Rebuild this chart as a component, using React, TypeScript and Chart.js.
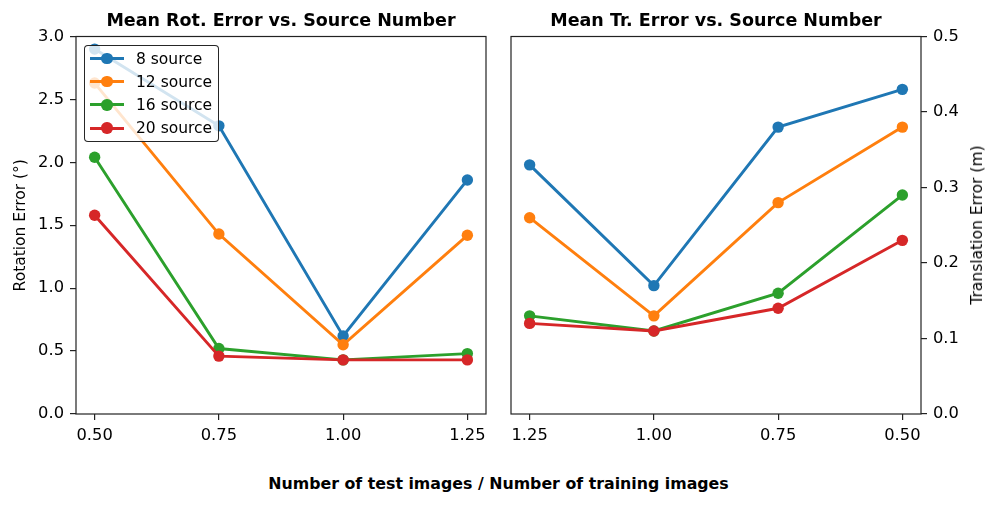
import React, { useEffect, useRef } from 'react';
import { Chart, registerables } from 'chart.js';

Chart.register(...registerables);

// ---- data ----
const ratioTicks = [0.5, 0.75, 1.0, 1.25];
const rotRatios = [0.5, 0.75, 1.0, 1.25];
const trRatios = [1.25, 1.0, 0.75, 0.5];
const seriesLabels = ['8 source', '12 source', '16 source', '20 source'];
const seriesColors = ['#1f77b4', '#ff7f0e', '#2ca02c', '#d62728'];

const rotErr8 = [2.9, 2.29, 0.62, 1.86];
const rotErr12 = [2.63, 1.43, 0.55, 1.42];
const rotErr16 = [2.04, 0.52, 0.43, 0.48];
const rotErr20 = [1.58, 0.46, 0.43, 0.43];

const trErr8 = [0.33, 0.17, 0.38, 0.43];
const trErr12 = [0.26, 0.13, 0.28, 0.38];
const trErr16 = [0.13, 0.11, 0.16, 0.29];
const trErr20 = [0.12, 0.11, 0.14, 0.23];

const rotTicks = [0, 0.5, 1.0, 1.5, 2.0, 2.5, 3.0];
const trTicks = [0, 0.1, 0.2, 0.3, 0.4, 0.5];

const rotSeries = [rotErr8, rotErr12, rotErr16, rotErr20];
const trSeries = [trErr8, trErr12, trErr16, trErr20];

const FONT = "'DejaVu Sans', sans-serif";

const framePlugin = {
  id: 'frame',
  afterDraw(chart: any) {
    const { ctx, chartArea: a } = chart;
    ctx.save();
    ctx.strokeStyle = '#222';
    ctx.lineWidth = 1.2;
    ctx.strokeRect(a.left, a.top, a.right - a.left, a.bottom - a.top);
    ctx.restore();
  },
};

function buildDatasets(xs: number[], series: number[][]) {
  return series.map((vals, i) => ({
    label: seriesLabels[i],
    data: vals.map((v, j) => ({ x: xs[j], y: v })),
    borderColor: seriesColors[i],
    backgroundColor: seriesColors[i],
    borderWidth: 2.9,
    pointRadius: 5.7,
    pointBorderWidth: 0,
    pointBackgroundColor: seriesColors[i],
    tension: 0,
    order: 3 - i,
  }));
}

const tickGrid = {
  display: true,
  drawOnChartArea: false,
  drawTicks: true,
  tickLength: 6,
  color: '#222',
  lineWidth: 1.2,
};

function makeConfig(side: 'left' | 'right'): any {
  const isLeft = side === 'left';
  const yTicks = isLeft ? rotTicks : trTicks;
  return {
    type: 'line',
    data: {
      datasets: isLeft ? buildDatasets(rotRatios, rotSeries) : buildDatasets(trRatios, trSeries),
    },
    plugins: [framePlugin],
    options: {
      responsive: false,
      animation: false,
      events: [],
      layout: { padding: isLeft ? { left: 0, right: 11, top: 0, bottom: 0 } : { left: 14, right: 0, top: 0, bottom: 0 } },
      plugins: {
        legend: { display: false },
        tooltip: { enabled: false },
        title: {
          display: true,
          text: isLeft ? 'Mean Rot. Error vs. Source Number' : 'Mean Tr. Error vs. Source Number',
          fullSize: false,
          color: '#000',
          font: { family: FONT, size: 17.5, weight: 'bold', lineHeight: 1.2 },
          padding: { top: 10.5, bottom: 5 },
        },
      },
      scales: {
        x: {
          type: 'linear',
          min: 0.4625,
          max: 1.2875,
          reverse: !isLeft,
          afterBuildTicks: (s: any) => {
            s.ticks = ratioTicks.map((v) => ({ value: v }));
          },
          afterFit: (s: any) => {
            s.height = 26;
          },
          ticks: {
            autoSkip: false,
            maxRotation: 0,
            color: '#000',
            padding: 6,
            font: { family: FONT, size: 16.3 },
            callback: (v: any) => Number(v).toFixed(2),
          },
          grid: tickGrid,
          border: { display: false },
        },
        y: {
          type: 'linear',
          position: isLeft ? 'left' : 'right',
          min: 0,
          max: isLeft ? 3 : 0.5,
          afterBuildTicks: (s: any) => {
            s.ticks = yTicks.map((v) => ({ value: v }));
          },
          afterFit: (s: any) => {
            s.width = 76;
          },
          ticks: {
            color: '#000',
            padding: 6,
            font: { family: FONT, size: 16.3 },
            callback: (v: any) => Number(v).toFixed(1),
          },
          title: {
            display: isLeft,
            text: 'Rotation Error (°)',
            color: '#000',
            font: { family: FONT, size: 15.5 },
            padding: { top: 12, bottom: 0 },
          },
          grid: tickGrid,
          border: { display: false },
        },
      },
    },
  };
}

function ChartCanvas({ side, left, width, height }: { side: 'left' | 'right'; left: number; width: number; height: number }) {
  const ref = useRef<HTMLCanvasElement | null>(null);
  useEffect(() => {
    if (!ref.current) return;
    const chart = new Chart(ref.current, makeConfig(side));
    return () => chart.destroy();
  }, [side]);
  return (
    <canvas
      ref={ref}
      width={width}
      height={height}
      style={{ position: 'absolute', left, top: 0, width, height }}
    />
  );
}

function Legend() {
  return (
    <div
      style={{
        position: 'absolute',
        left: 84,
        top: 44.5,
        width: 135,
        height: 97,
        boxSizing: 'border-box',
        border: '1.2px solid rgba(0,0,0,0.85)',
        borderRadius: 4,
        background: 'rgba(255,255,255,0.8)',
        fontFamily: FONT,
        fontSize: 15.5,
        color: '#000',
      }}
    >
      {seriesLabels.map((lab, i) => (
        <div key={lab} style={{ position: 'absolute', left: 0, top: 13 + i * 23.2 - 10, height: 20, width: '100%' }}>
          <div
            style={{
              position: 'absolute',
              left: 5,
              top: 10 - 1.45,
              width: 34,
              height: 2.9,
              background: seriesColors[i],
            }}
          />
          <div
            style={{
              position: 'absolute',
              left: 22 - 5.7,
              top: 10 - 5.7,
              width: 11.4,
              height: 11.4,
              borderRadius: '50%',
              background: seriesColors[i],
            }}
          />
          <div style={{ position: 'absolute', left: 51, top: 0, lineHeight: '20px', whiteSpace: 'nowrap' }}>{lab}</div>
        </div>
      ))}
    </div>
  );
}

export default function App() {
  useEffect(() => {
    document.body.style.margin = '0';
  }, []);
  return (
    <div style={{ position: 'absolute', left: 0, top: 0, width: 997, height: 506, background: '#fff', overflow: 'hidden' }}>
      <ChartCanvas side="left" left={0} width={497} height={440} />
      <ChartCanvas side="right" left={497} width={500} height={440} />
      <Legend />
      <div
        style={{
          position: 'absolute',
          left: 977,
          top: 225,
          transform: 'translate(-50%, -50%) rotate(-90deg)',
          fontFamily: FONT,
          fontSize: 15.5,
          color: '#000',
          whiteSpace: 'nowrap',
        }}
      >
        Translation Error (m)
      </div>
      <div
        style={{
          position: 'absolute',
          left: 0,
          top: 474,
          width: 997,
          textAlign: 'center',
          fontFamily: FONT,
          fontSize: 15.8,
          fontWeight: 'bold',
          lineHeight: '20px',
          color: '#000',
        }}
      >
        Number of test images / Number of training images
      </div>
    </div>
  );
}
